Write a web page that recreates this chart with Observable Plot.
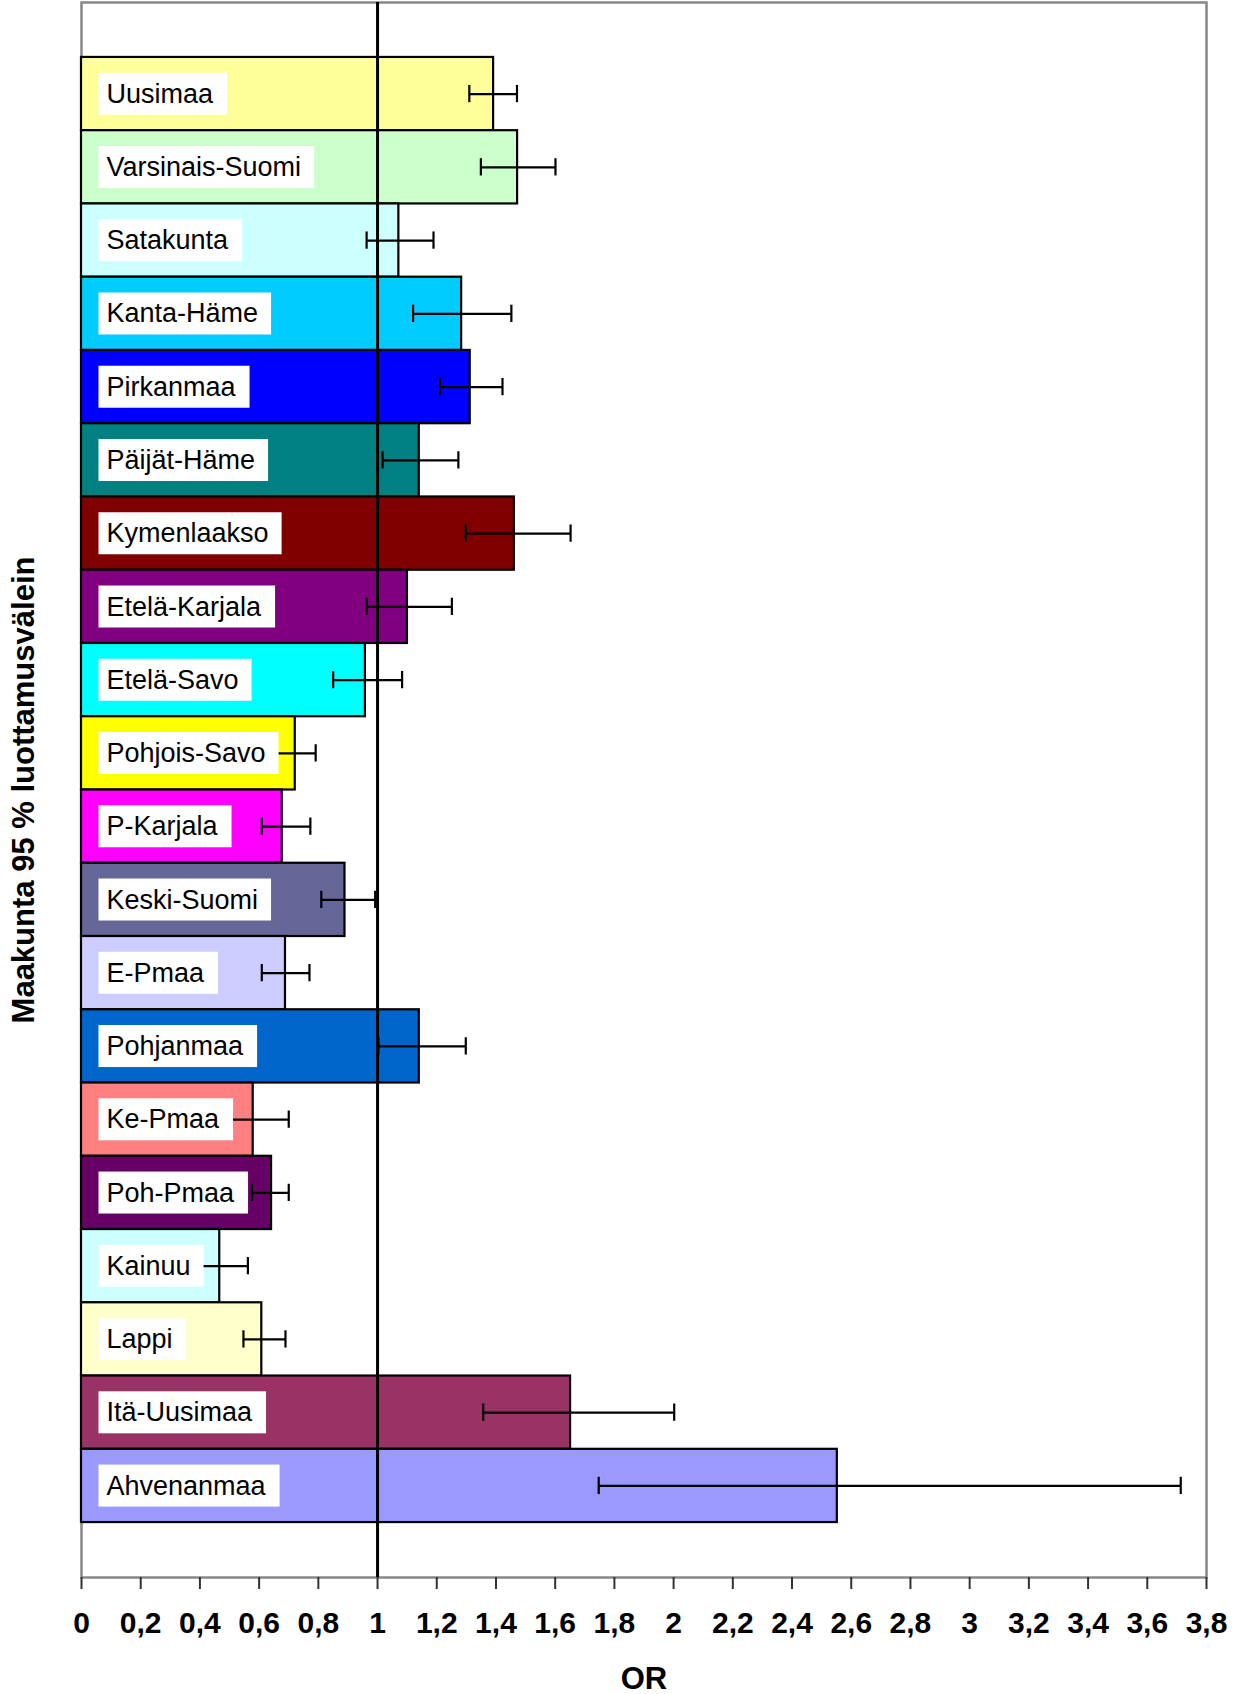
<!DOCTYPE html>
<html>
<head>
<meta charset="utf-8">
<script src="https://cdn.jsdelivr.net/npm/d3@7"></script>
<script src="https://cdn.jsdelivr.net/npm/@observablehq/plot@0.6"></script>
<style>
  html, body { margin: 0; padding: 0; background: #fff; }
  #chart svg { display: block; }
</style>
</head>
<body>
<div id="chart"></div>
<script>
const regions = ["Uusimaa", "Varsinais-Suomi", "Satakunta", "Kanta-Häme", "Pirkanmaa", "Päijät-Häme",
  "Kymenlaakso", "Etelä-Karjala", "Etelä-Savo", "Pohjois-Savo", "P-Karjala", "Keski-Suomi",
  "E-Pmaa", "Pohjanmaa", "Ke-Pmaa", "Poh-Pmaa", "Kainuu", "Lappi", "Itä-Uusimaa", "Ahvenanmaa"];
const orValues = [1.392, 1.473, 1.072, 1.284, 1.313, 1.141, 1.462, 1.101, 0.959, 0.722, 0.678, 0.890,
  0.689, 1.141, 0.580, 0.642, 0.467, 0.609, 1.652, 2.553];
const ciLow = [1.310, 1.349, 0.963, 1.120, 1.211, 1.017, 1.298, 0.963, 0.850, 0.649, 0.609, 0.810,
  0.609, 1.003, 0.481, 0.576, 0.398, 0.547, 1.357, 1.747];
const ciHigh = [1.471, 1.601, 1.189, 1.452, 1.422, 1.273, 1.652, 1.251, 1.083, 0.791, 0.773, 0.992,
  0.770, 1.298, 0.700, 0.700, 0.562, 0.689, 2.002, 3.713];
const barColors = ["#FFFF99", "#CCFFCC", "#CCFFFF", "#00CCFF", "#0000FF", "#008080", "#800000", "#800080",
  "#00FFFF", "#FFFF00", "#FF00FF", "#666699", "#CCCCFF", "#0066CC", "#FF8080", "#660066",
  "#CCFFFF", "#FFFFCC", "#993366", "#9999FF"];
const xTicks = [0, 0.2, 0.4, 0.6, 0.8, 1, 1.2, 1.4, 1.6, 1.8, 2, 2.2, 2.4, 2.6, 2.8, 3, 3.2, 3.4, 3.6, 3.8];
const refLine = [1];
const xTitle = "OR";
const yTitle = "Maakunta 95 % luottamusvälein";

const data = regions.map((name, i) => ({name, or: orValues[i], lo: ciLow[i], hi: ciHigh[i], color: barColors[i]}));

const font = "'Liberation Sans', Arial, sans-serif";

const chart = Plot.plot({
  width: 1241,
  height: 1694,
  marginTop: 2,
  marginBottom: 117,
  marginLeft: 81,
  marginRight: 35,
  style: {fontFamily: font, background: "#fff"},
  x: {domain: [0, 3.8], axis: null},
  y: {domain: regions, axis: null, paddingInner: 0, paddingOuter: 0.75, round: false},
  color: {type: "identity"},
  marks: [
    Plot.frame({stroke: "#888", strokeWidth: 2.5}),
    Plot.barX(data, {x: "or", y: "name", fill: "color", stroke: "#000", strokeWidth: 2.2}),
    Plot.ruleX(refLine, {stroke: "#000", strokeWidth: 3}),
    Plot.ruleY(data, {y: "name", x1: "lo", x2: "hi", stroke: "#000", strokeWidth: 2.2}),
    Plot.tickX(data, {x: "lo", y: "name", stroke: "#000", strokeWidth: 2.2, insetTop: 28, insetBottom: 28}),
    Plot.tickX(data, {x: "hi", y: "name", stroke: "#000", strokeWidth: 2.2, insetTop: 28, insetBottom: 28}),
    Plot.text(data, {y: "name", text: "name", frameAnchor: "left", dx: 25, textAnchor: "start",
      fontSize: 27, fill: "#000", ariaLabel: "region-labels"}),
    Plot.axisX({ticks: xTicks, tickFormat: d => String(d).replace(".", ","), tickSize: 12, tickPadding: 22,
      line: true, stroke: "#333", strokeWidth: 2, fontSize: 30, fontWeight: "bold", fill: "#000", label: null}),
    Plot.text([xTitle], {frameAnchor: "bottom", dy: 111, fontSize: 31, fontWeight: "bold", fill: "#000"}),
    Plot.text([yTitle], {frameAnchor: "left", dx: -57, rotate: -90, textAnchor: "middle",
      fontSize: 31, fontWeight: "bold", fill: "#000"})
  ]
});

document.getElementById("chart").appendChild(chart);

// white boxes behind the region labels
const padL = 8, padR = 13, boxH = 42;
Array.from(chart.querySelectorAll("text"))
  .filter(t => regions.includes(t.textContent.trim()) && t.getAttribute("text-anchor") !== "middle")
  .forEach(t => {
    const b = t.getBBox();
    const cy = b.y + b.height / 2;
    const r = document.createElementNS("http://www.w3.org/2000/svg", "rect");
    r.setAttribute("x", b.x - padL);
    r.setAttribute("y", cy - boxH / 2);
    r.setAttribute("width", b.width + padL + padR);
    r.setAttribute("height", boxH);
    r.setAttribute("fill", "#fff");
    r.setAttribute("stroke", "none");
    const tr = t.getAttribute("transform");
    if (tr) r.setAttribute("transform", tr);
    t.parentNode.insertBefore(r, t);
  });
</script>
</body>
</html>
